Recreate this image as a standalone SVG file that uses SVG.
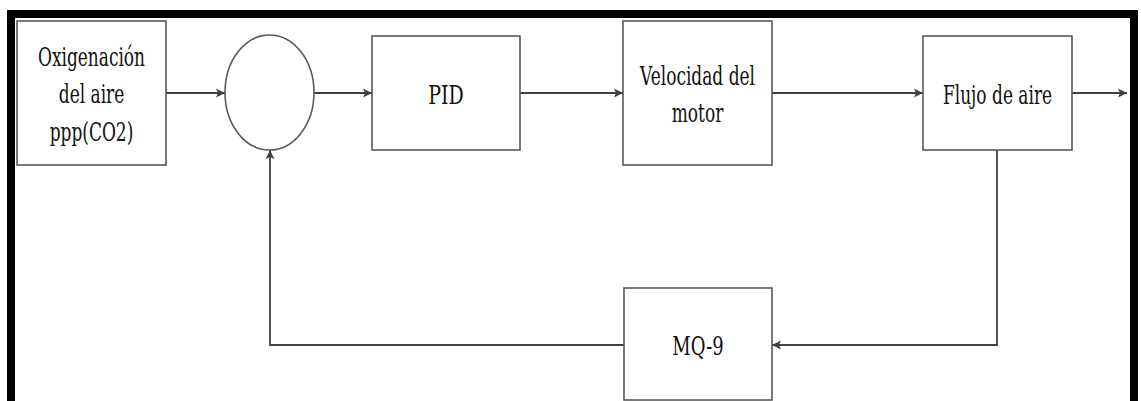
<svg xmlns="http://www.w3.org/2000/svg" width="1141" height="401" viewBox="0 0 1141 401">
<defs>
<style>
.box{fill:#fff;stroke:#595959;stroke-width:1.6}
.ln{fill:none;stroke:#404040;stroke-width:1.8}
.t{font-family:"DejaVu Serif",serif;font-size:20px;fill:#111;text-anchor:middle}
.frame{fill:#000}
</style>
<marker id="ah" markerUnits="userSpaceOnUse" markerWidth="10" markerHeight="10" refX="9" refY="5" orient="auto">
<path d="M0,0.5 L9,5 L0,9.5 L2,5 z" fill="#404040"/>
</marker>
</defs>
<rect width="1141" height="401" fill="#fff"/>
<g id="frame">
<rect class="frame" x="7" y="10" width="1131" height="8"/>
<rect class="frame" x="7" y="10" width="8" height="391"/>
<rect class="frame" x="1130" y="10" width="8" height="391"/>
</g>
<g id="connectors">
<line class="ln" x1="166" y1="93" x2="225" y2="93" marker-end="url(#ah)"/>
<line class="ln" x1="314" y1="93" x2="372" y2="93" marker-end="url(#ah)"/>
<line class="ln" x1="520" y1="93" x2="623" y2="93" marker-end="url(#ah)"/>
<line class="ln" x1="772" y1="93" x2="923" y2="93" marker-end="url(#ah)"/>
<line class="ln" x1="1072" y1="93" x2="1127" y2="93" marker-end="url(#ah)"/>
<polyline class="ln" points="997,150 997,345 772,345" marker-end="url(#ah)"/>
<polyline class="ln" points="624,345 270,345 270,150" marker-end="url(#ah)"/>
</g>
<g id="oxigenacion">
<rect class="box" x="17" y="21" width="149" height="144"/>
<text class="t" transform="translate(91.5,65.5) scale(0.85,1.3)">Oxigenación</text>
<text class="t" transform="translate(91.5,103.3) scale(0.85,1.3)">del aire</text>
<text class="t" transform="translate(91.5,140.5) scale(0.85,1.3)">ppp(CO2)</text>
</g>
<g id="sum">
<ellipse class="box" cx="269.5" cy="92.5" rx="44.5" ry="57.5"/>
</g>
<g id="pid">
<rect class="box" x="372" y="36" width="148" height="114"/>
<text class="t" transform="translate(446,103.5) scale(0.95,1.3)">PID</text>
</g>
<g id="velocidad">
<rect class="box" x="623" y="21" width="149" height="144"/>
<text class="t" transform="translate(697.5,85) scale(0.85,1.3)">Velocidad del</text>
<text class="t" transform="translate(697.5,122) scale(0.85,1.3)">motor</text>
</g>
<g id="flujo">
<rect class="box" x="923" y="36" width="149" height="114"/>
<text class="t" transform="translate(997.5,103.5) scale(0.85,1.3)">Flujo de aire</text>
</g>
<g id="mq9">
<rect class="box" x="624" y="288" width="148" height="112"/>
<text class="t" transform="translate(698,355) scale(0.9,1.3)">MQ-9</text>
</g>
</svg>
